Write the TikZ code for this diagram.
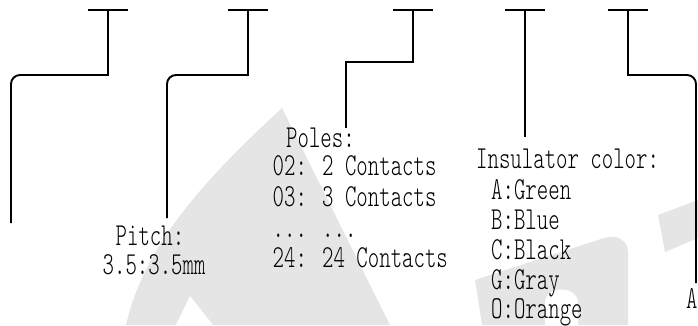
\documentclass[tikz,border=0pt]{standalone}
\usepackage{fontspec}
\newfontfamily\monofnt{lmmonolt10-regular.otf}[FakeStretch=0.68]
\begin{document}
\begin{tikzpicture}[x=1pt,y=-1pt,
  lead/.style={line width=1.9pt, line cap=butt, line join=miter},
  lbl/.style={anchor=base west, inner sep=0pt, text height=17pt, text depth=5pt,
    font=\monofnt\fontsize{32}{36}\selectfont},
  wm/.style={fill=black!10, draw=none}]
\useasboundingbox (0,0) rectangle (698,325);
% watermark
\fill[wm] (282,108) .. controls (215,170) and (145,240) .. (126,325) -- (390,325) -- cycle;
\fill[white] (190,296) -- (176,325) -- (213,325) -- cycle;
\fill[wm] (475,280) -- (604,238) .. controls (616,234) and (628,240) .. (628,252) -- (628,325) -- (482,325) -- cycle;
\fill[white] (545,325) -- (545,303) .. controls (545,285) and (578,285) .. (578,303) -- (578,325) -- cycle;
\fill[wm] (658,215) -- (698,200) -- (698,238) -- (665,252) -- cycle;
% coordinates
\coordinate (t1) at (108,10); \coordinate (e1) at (11,223);
\coordinate (t2) at (248,10); \coordinate (e2) at (167,218);
\coordinate (t3) at (413,10); \coordinate (e3) at (346,128);
\coordinate (t4) at (525,10); \coordinate (e4) at (525,137);
\coordinate (t5) at (628,10); \coordinate (e5) at (696,283);
% T bars
\foreach \c in {t1,t2,t3,t4,t5}
  \draw[lead] ([xshift=-20pt]\c) -- ([xshift=20pt]\c);
% leaders
\draw[lead] (t1) -- (108,75) -- (20,75) .. controls (15,75) and (11,79) .. (11,84) -- (e1);
\draw[lead] (t2) -- (248,75) -- (176,75) .. controls (171,75) and (167,79) .. (167,84) -- (e2);
\draw[lead] (t3) -- (413,62) -- (346,62) -- (e3);
\draw[lead] (t4) -- (e4);
\draw[lead] (t5) -- (628,75) -- (687,75) .. controls (692,75) and (696,79) .. (696,84) -- (e5);
% labels
\node[lbl] (pitch) at (115.5,245) {Pitch:};
\node[lbl] (pitchv) at (102.5,274) {3.5:3.5mm};
\node[lbl] (poles) at (286,147) {Poles:};
\node[lbl] (p02) at (272.5,175) {02: 2 Contacts};
\node[lbl] (p03) at (272.5,206) {03: 3 Contacts};
\node[lbl] (pdots) at (272.5,237) {... ...};
\node[lbl] (p24) at (272.5,267) {24: 24 Contacts};
\node[lbl] (ins) at (476,168) {Insulator color:};
\node[lbl] (ca) at (491,199) {A:Green};
\node[lbl] (cb) at (491,229) {B:Blue};
\node[lbl] (cc) at (491,259) {C:Black};
\node[lbl] (cg) at (491,289) {G:Gray};
\node[lbl] (co) at (491,318) {O:Orange};
\node[lbl] (last) at (686,308) {A};
\end{tikzpicture}
\end{document}
